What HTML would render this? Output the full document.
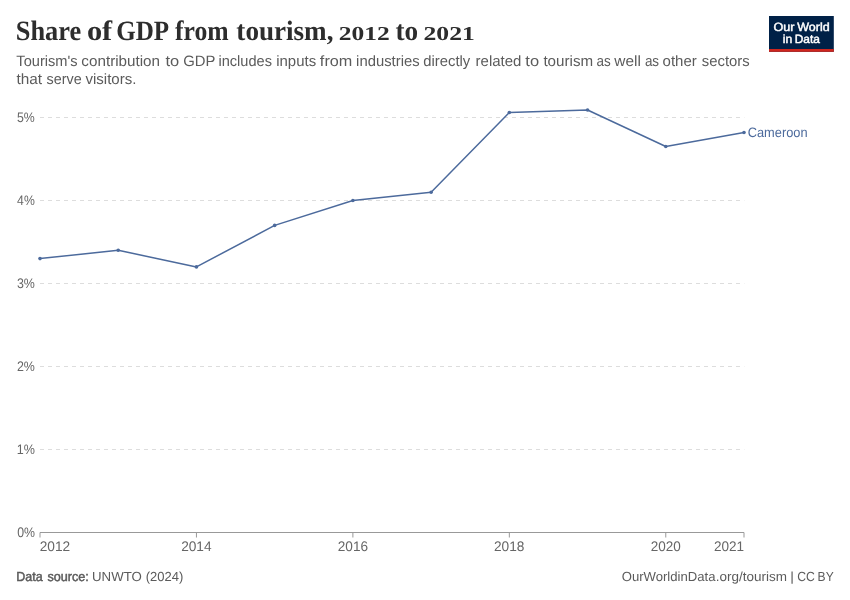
<!DOCTYPE html>
<html lang="en">
<head>
<meta charset="utf-8">
<title>Share of GDP from tourism, 2012 to 2021</title>
<style>
html,body{margin:0;padding:0;background:#fff;}
body{width:850px;height:600px;overflow:hidden;font-family:"Liberation Sans",sans-serif;}
svg{display:block;}
svg text{text-rendering:geometricPrecision;}
.title{font-family:"Liberation Serif",serif;font-weight:bold;font-size:28px;fill:#2d2d2d;}
.sub{font-family:"Liberation Sans",sans-serif;font-size:15px;fill:#5b5b5b;}
.axis text{font-family:"Liberation Sans",sans-serif;font-size:13.8px;fill:#666;}
.grid line{stroke:#ddd;stroke-width:1;stroke-dasharray:4 4;}
.ticks line, .axisline{stroke:#999;stroke-width:1;}
.series path{fill:none;stroke:#4c6a9c;stroke-width:1.5;stroke-linejoin:round;stroke-linecap:round;}
.series circle{fill:#4c6a9c;}
.lbl{font-family:"Liberation Sans",sans-serif;font-size:13.6px;fill:#4c6a9c;}
.foot{font-family:"Liberation Sans",sans-serif;font-size:13.2px;fill:#5b5b5b;}
.foot .b{font-weight:normal;stroke:#5b5b5b;stroke-width:0.5px;}
.logo text{font-family:"Liberation Sans",sans-serif;font-weight:normal;font-size:11.9px;fill:#fff;stroke:#fff;stroke-width:0.45px;}
</style>
</head>
<body>
<svg width="850" height="600" viewBox="0 0 850 600">
<rect width="850" height="600" fill="#fff"/>
<text id="title" class="title" y="39.95"><tspan x="15.76" textLength="65.44" lengthAdjust="spacingAndGlyphs" font-size="28">Share</tspan> <tspan x="86.96" textLength="25.28" lengthAdjust="spacingAndGlyphs" font-size="28">of</tspan> <tspan x="116.27" textLength="51.54" lengthAdjust="spacingAndGlyphs" font-size="28">GDP</tspan> <tspan x="175.08" textLength="53.67" lengthAdjust="spacingAndGlyphs" font-size="28">from</tspan> <tspan x="236.36" textLength="97.05" lengthAdjust="spacingAndGlyphs" font-size="28">tourism,</tspan> <tspan x="338.71" textLength="50.97" lengthAdjust="spacingAndGlyphs" font-size="19.8">2012</tspan> <tspan x="395.43" textLength="22.65" lengthAdjust="spacingAndGlyphs" font-size="28">to</tspan> <tspan x="423.52" textLength="51.26" lengthAdjust="spacingAndGlyphs" font-size="19.8">2021</tspan></text>
<text id="sub1" class="sub" y="66.2"><tspan x="16.35" textLength="61.29" lengthAdjust="spacingAndGlyphs">Tourism's</tspan> <tspan x="81.38" textLength="78.66" lengthAdjust="spacingAndGlyphs">contribution</tspan> <tspan x="165.43" textLength="13.73" lengthAdjust="spacingAndGlyphs">to</tspan> <tspan x="183.29" textLength="31.88" lengthAdjust="spacingAndGlyphs">GDP</tspan> <tspan x="218.48" textLength="53.5" lengthAdjust="spacingAndGlyphs">includes</tspan> <tspan x="276.23" textLength="39.89" lengthAdjust="spacingAndGlyphs">inputs</tspan> <tspan x="319.89" textLength="32.44" lengthAdjust="spacingAndGlyphs">from</tspan> <tspan x="356.1" textLength="63.54" lengthAdjust="spacingAndGlyphs">industries</tspan> <tspan x="423.27" textLength="46.96" lengthAdjust="spacingAndGlyphs">directly</tspan> <tspan x="475.58" textLength="45.81" lengthAdjust="spacingAndGlyphs">related</tspan> <tspan x="525.38" textLength="13.73" lengthAdjust="spacingAndGlyphs">to</tspan> <tspan x="543.4" textLength="49.76" lengthAdjust="spacingAndGlyphs">tourism</tspan> <tspan x="596.61" textLength="14.22" lengthAdjust="spacingAndGlyphs">as</tspan> <tspan x="614.38" textLength="26.58" lengthAdjust="spacingAndGlyphs">well</tspan> <tspan x="644.89" textLength="14.22" lengthAdjust="spacingAndGlyphs">as</tspan> <tspan x="662.59" textLength="34.16" lengthAdjust="spacingAndGlyphs">other</tspan> <tspan x="701.8" textLength="47.91" lengthAdjust="spacingAndGlyphs">sectors</tspan></text>
<text id="sub2" class="sub" y="84.2"><tspan x="16.46" textLength="25.58" lengthAdjust="spacingAndGlyphs">that</tspan> <tspan x="46.48" textLength="35.16" lengthAdjust="spacingAndGlyphs">serve</tspan> <tspan x="85.46" textLength="50.97" lengthAdjust="spacingAndGlyphs">visitors.</tspan></text>
<g class="logo">
<rect x="769" y="16" width="64.8" height="35.8" fill="#002147"/>
<rect x="769" y="49" width="64.8" height="2.8" fill="#ce261e"/>
<text id="logo1" y="30.8"><tspan x="773.44" textLength="20.97" lengthAdjust="spacingAndGlyphs">Our</tspan> <tspan x="797.31" textLength="32.37" lengthAdjust="spacingAndGlyphs">World</tspan></text>
<text id="logo2" y="42.6"><tspan x="782.87" textLength="9.53" lengthAdjust="spacingAndGlyphs">in</tspan> <tspan x="794.73" textLength="25.23" lengthAdjust="spacingAndGlyphs">Data</tspan></text>
</g>
<g class="grid">
<line x1="40.0" x2="744.3" y1="449.50" y2="449.50"/>
<line x1="40.0" x2="744.3" y1="366.50" y2="366.50"/>
<line x1="40.0" x2="744.3" y1="283.50" y2="283.50"/>
<line x1="40.0" x2="744.3" y1="200.50" y2="200.50"/>
<line x1="40.0" x2="744.3" y1="117.50" y2="117.50"/>
</g>
<g class="axis">
<text x="17.13" y="536.80" textLength="17.81" lengthAdjust="spacingAndGlyphs">0%</text>
<text x="16.74" y="453.80" textLength="18.17" lengthAdjust="spacingAndGlyphs">1%</text>
<text x="16.94" y="370.80" textLength="17.99" lengthAdjust="spacingAndGlyphs">2%</text>
<text x="16.9" y="287.80" textLength="17.96" lengthAdjust="spacingAndGlyphs">3%</text>
<text x="17.11" y="204.80" textLength="17.67" lengthAdjust="spacingAndGlyphs">4%</text>
<text x="16.92" y="121.80" textLength="17.82" lengthAdjust="spacingAndGlyphs">5%</text>
<text x="39.76" y="550.6" textLength="30.48" lengthAdjust="spacingAndGlyphs">2012</text>
<text x="181.14" y="550.6" textLength="30.49" lengthAdjust="spacingAndGlyphs">2014</text>
<text x="337.8" y="550.6" textLength="30.31" lengthAdjust="spacingAndGlyphs">2016</text>
<text x="493.99" y="550.6" textLength="30.47" lengthAdjust="spacingAndGlyphs">2018</text>
<text x="650.83" y="550.6" textLength="30.04" lengthAdjust="spacingAndGlyphs">2020</text>
<text x="713.92" y="550.6" textLength="30.17" lengthAdjust="spacingAndGlyphs">2021</text>
</g>
<line class="axisline" x1="40.0" x2="744.0" y1="532.5" y2="532.5"/>
<g class="ticks">
<line x1="40.00" x2="40.00" y1="532.5" y2="537.5"/>
<line x1="196.44" x2="196.44" y1="532.5" y2="537.5"/>
<line x1="352.89" x2="352.89" y1="532.5" y2="537.5"/>
<line x1="509.33" x2="509.33" y1="532.5" y2="537.5"/>
<line x1="665.78" x2="665.78" y1="532.5" y2="537.5"/>
<line x1="744.00" x2="744.00" y1="532.5" y2="537.5"/>
</g>
<g class="series">
<path d="M40.00,258.60 L118.22,250.30 L196.44,266.90 L274.67,225.40 L352.89,200.50 L431.11,192.20 L509.33,112.52 L587.56,110.03 L665.78,146.55 L744.00,132.44"/>
<circle cx="40.00" cy="258.60" r="1.8"/>
<circle cx="118.22" cy="250.30" r="1.8"/>
<circle cx="196.44" cy="266.90" r="1.8"/>
<circle cx="274.67" cy="225.40" r="1.8"/>
<circle cx="352.89" cy="200.50" r="1.8"/>
<circle cx="431.11" cy="192.20" r="1.8"/>
<circle cx="509.33" cy="112.52" r="1.8"/>
<circle cx="587.56" cy="110.03" r="1.8"/>
<circle cx="665.78" cy="146.55" r="1.8"/>
<circle cx="744.00" cy="132.44" r="1.8"/>
</g>
<text id="lbl" class="lbl" x="747.73" y="137.2" textLength="59.81" lengthAdjust="spacingAndGlyphs">Cameroon</text>
<text id="src" class="foot" y="581"><tspan class="b"><tspan x="16.24" textLength="26.4" lengthAdjust="spacingAndGlyphs">Data</tspan> <tspan x="47.46" textLength="41.35" lengthAdjust="spacingAndGlyphs">source:</tspan></tspan> <tspan x="92.0" textLength="49.8" lengthAdjust="spacingAndGlyphs">UNWTO</tspan> <tspan x="145.71" textLength="37.67" lengthAdjust="spacingAndGlyphs">(2024)</tspan></text>
<text id="url" class="foot" y="580.9"><tspan x="621.71" textLength="93.78" lengthAdjust="spacingAndGlyphs">OurWorldinData</tspan><tspan x="715.82" textLength="71.21" lengthAdjust="spacingAndGlyphs">.org/tourism</tspan> <tspan x="790.25" textLength="3.66" lengthAdjust="spacingAndGlyphs">|</tspan> <tspan x="797.23" textLength="17.63" lengthAdjust="spacingAndGlyphs">CC</tspan> <tspan x="817.58" textLength="16.1" lengthAdjust="spacingAndGlyphs">BY</tspan></text>
</svg>
</body>
</html>
